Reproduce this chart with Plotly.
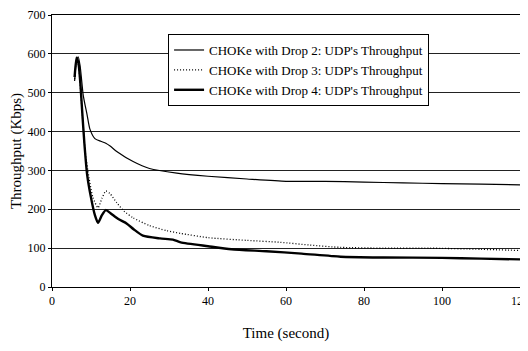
import plotly.graph_objects as go

# Data
t_drop2 = [5.8, 6.2, 6.7, 7.2, 8.0, 9.0, 9.7, 11, 12.5, 13.8, 15, 16.6, 20.8, 25, 32, 40, 50, 60, 70, 80, 90, 100, 110, 120]
v_drop2 = [530, 575, 592, 570, 494, 443, 407, 382, 375, 370, 362, 349, 323, 305, 293, 285, 278, 272, 272, 270, 268, 266, 265, 263]

t_drop3 = [5.8, 6.3, 6.8, 7.3, 7.8, 8.5, 9.5, 10.5, 11.8, 12.8, 13.8, 14.9, 16.6, 18.5, 20.8, 25, 29.4, 33, 40, 50, 58.5, 66, 74, 85, 97, 110, 120]
v_drop3 = [535, 585, 570, 510, 440, 350, 280, 230, 204, 228, 247, 240, 217, 195, 178, 158, 145, 138, 127, 120, 115, 108, 102, 100, 100, 97, 94]

t_drop4 = [5.8, 6.3, 6.8, 7.3, 7.7, 8.3, 9.0, 10, 11, 11.8, 12.8, 13.8, 15, 17, 19.2, 21, 23.3, 27.7, 31, 33, 40, 46, 55, 64, 74, 85, 100, 110, 120]
v_drop4 = [540, 590, 575, 520, 458, 370, 290, 230, 185, 165, 185, 198, 190, 175, 163, 148, 132, 125, 122, 115, 105, 97, 92, 86, 78, 76, 75, 73, 71]

names = ["CHOKe with Drop 2: UDP's Throughput",
         "CHOKe with Drop 3: UDP's Throughput",
         "CHOKe with Drop 4: UDP's Throughput"]

x_ticks = [0, 20, 40, 60, 80, 100, 120]
y_ticks = [0, 100, 200, 300, 400, 500, 600, 700]

font = "Liberation Serif"

fig = go.Figure()
fig.add_trace(go.Scatter(x=t_drop2, y=v_drop2, mode="lines", name=names[0],
                         line=dict(color="black", width=1.2, shape="spline", smoothing=0.6)))
fig.add_trace(go.Scatter(x=t_drop3, y=v_drop3, mode="lines", name=names[1],
                         line=dict(color="black", width=1.3, dash="1px,2px", shape="spline", smoothing=0.6)))
fig.add_trace(go.Scatter(x=t_drop4, y=v_drop4, mode="lines", name=names[2],
                         line=dict(color="black", width=2.4, shape="spline", smoothing=0.6)))

# page has an 8px body margin, so the figure is sized to fit the 528x351 window
fig.update_layout(
    width=520, height=343,
    margin=dict(l=44, r=8, t=7, b=64),
    paper_bgcolor="white", plot_bgcolor="white",
    font=dict(family=font, size=12, color="black"),
    showlegend=True,
    legend=dict(x=0.248, y=0.93, xanchor="left", yanchor="top",
                bgcolor="white", bordercolor="black", borderwidth=1,
                font=dict(family=font, size=13, color="black"),
                tracegroupgap=0, itemwidth=30),
    xaxis=dict(range=[0, 120], tickvals=x_ticks, ticks="outside", ticklen=3,
               tickcolor="black", showline=True, linecolor="black", linewidth=1,
               mirror=True, showgrid=False, zeroline=False, automargin=False,
               ticklabeloverflow="allow",
               tickfont=dict(family=font, size=12),
               title=dict(text="Time (second)", font=dict(family=font, size=15), standoff=20)),
    yaxis=dict(range=[0, 700], tickvals=y_ticks, ticks="outside", ticklen=3,
               tickcolor="black", showline=True, linecolor="black", linewidth=1,
               mirror=True, showgrid=True, gridcolor="#222222", gridwidth=1,
               zeroline=False, automargin=False,
               ticklabeloverflow="allow",
               tickfont=dict(family=font, size=12),
               title=dict(text="Throughput (Kbps)", font=dict(family=font, size=15), standoff=6)),
)

fig.write_html("out.html")
